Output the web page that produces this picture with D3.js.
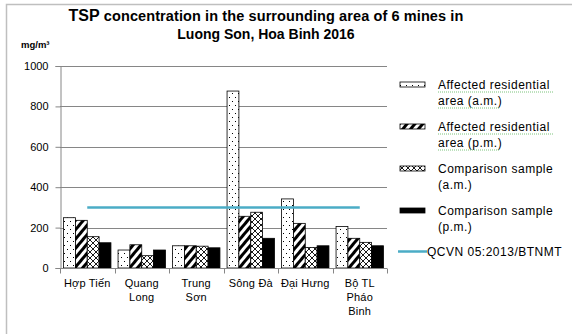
<!DOCTYPE html>
<html>
<head>
<meta charset="utf-8">
<script src="https://cdn.jsdelivr.net/npm/d3@7"></script>
<style>
  body { margin: 0; background: #fff; }
  svg { display: block; }
</style>
</head>
<body>
<div id="chart"></div>
<script>
// chart data
const categories = [["Hợp Tiến"], ["Quang", "Long"], ["Trung", "Sơn"], ["Sông Đà"], ["Đại Hưng"], ["Bộ TL", "Pháo", "Binh"]];
const seriesNames = [["Affected residential", "area (a.m.)"], ["Affected residential", "area (p.m.)"], ["Comparison sample", "(a.m.)"], ["Comparison sample", "(p.m.)"]];
const residentialAM = [249, 89, 110, 876, 342, 205];
const residentialPM = [236, 115, 110, 256, 221, 147];
const comparisonAM = [155, 61, 108, 276, 102, 127];
const comparisonPM = [125, 89, 100, 147, 110, 110];
const standardValues = [300, 300, 300, 300, 300, 300];
const standardName = "QCVN 05:2013/BTNMT";
const yTicks = [0, 200, 400, 600, 800, 1000];

const series = [residentialAM, residentialPM, comparisonAM, comparisonPM];
const fills = ["url(#dots)", "url(#hatch)", "url(#cross)", "#000"];

let width = 572, height = 334;
let margin = { top: 66, left: 60, right: 185, bottom: 66 };
const font = "Liberation Sans, Arial, sans-serif";

let svg = d3.select("#chart").append("svg")
    .attr("width", width)
    .attr("height", height);

// patterns for the bars
let defs = svg.append("defs");
let dots = defs.append("pattern").attr("id", "dots").attr("patternUnits", "userSpaceOnUse")
    .attr("width", 6).attr("height", 8);
dots.append("rect").attr("width", 6).attr("height", 8).attr("fill", "#fff");
dots.append("rect").attr("x", 1).attr("y", 1).attr("width", 1).attr("height", 1).attr("fill", "#000");
dots.append("rect").attr("x", 4).attr("y", 5).attr("width", 1).attr("height", 1).attr("fill", "#000");

let hatch = defs.append("pattern").attr("id", "hatch").attr("patternUnits", "userSpaceOnUse")
    .attr("width", 6).attr("height", 6).attr("patternTransform", "rotate(40)");
hatch.append("rect").attr("width", 6).attr("height", 6).attr("fill", "#fff");
hatch.append("rect").attr("width", 3).attr("height", 6).attr("fill", "#000");

let cross = defs.append("pattern").attr("id", "cross").attr("patternUnits", "userSpaceOnUse")
    .attr("width", 6).attr("height", 6);
cross.append("rect").attr("width", 6).attr("height", 6).attr("fill", "#fff");
cross.append("path").attr("d", "M0,0L6,6M6,0L0,6").attr("stroke", "#000").attr("stroke-width", 0.9);

// frame
svg.append("path").attr("d", "M6.5,340V4.5H580").attr("fill", "none").attr("stroke", "#bfbfbf").attr("stroke-width", 1.5);

// scales
let x = d3.scaleBand()
    .domain(d3.range(categories.length))
    .range([margin.left, width - margin.right]);
let xInner = d3.scaleBand()
    .domain(d3.range(series.length))
    .range([0, x.bandwidth()])
    .paddingOuter(0.3);
let y = d3.scaleLinear()
    .domain([0, 1000])
    .range([height - margin.bottom, margin.top]);

// gridlines
svg.append("g")
    .selectAll("line")
    .data(yTicks.slice(1))
    .enter().append("line")
    .attr("x1", margin.left).attr("x2", width - margin.right)
    .attr("y1", d => Math.round(y(d)) + 0.5).attr("y2", d => Math.round(y(d)) + 0.5)
    .attr("stroke", "#868686").attr("stroke-width", 1);

// y axis
let yAxis = svg.append("g")
    .attr("transform", `translate(${margin.left + 0.5},0)`)
    .call(d3.axisLeft(y).tickValues(yTicks).tickSize(5).tickPadding(7).tickFormat(d3.format("d")));
yAxis.selectAll("path, line").attr("stroke", "#868686");
yAxis.selectAll("text").attr("font-family", font).attr("font-size", 11).attr("fill", "#000");

// bars
series.forEach((vals, s) => {
    svg.append("g").selectAll("rect")
        .data(vals)
        .enter().append("rect")
        .attr("x", (d, i) => x(i) + xInner(s))
        .attr("y", d => y(d))
        .attr("width", xInner.bandwidth())
        .attr("height", d => y(0) - y(d))
        .attr("fill", fills[s])
        .attr("stroke", "#000")
        .attr("stroke-width", 0.8);
});

// x axis
let xAxis = svg.append("g")
    .attr("transform", `translate(0,${Math.round(y(0)) + 0.5})`);
xAxis.append("line").attr("x1", margin.left).attr("x2", width - margin.right).attr("stroke", "#868686");
xAxis.selectAll(".tk")
    .data(d3.range(categories.length + 1))
    .enter().append("line")
    .attr("x1", i => Math.round(margin.left + i * x.step()) + 0.5)
    .attr("x2", i => Math.round(margin.left + i * x.step()) + 0.5)
    .attr("y1", 0).attr("y2", 5)
    .attr("stroke", "#868686");
xAxis.selectAll("text")
    .data(categories)
    .enter().append("text")
    .attr("x", (d, i) => x(i) + x.bandwidth() / 2)
    .attr("y", 18)
    .attr("text-anchor", "middle")
    .attr("font-family", font)
    .attr("font-size", 11)
    .attr("letter-spacing", 0.2)
    .selectAll("tspan")
    .data(d => d)
    .enter().append("tspan")
    .attr("x", function() { return this.parentNode.getAttribute("x"); })
    .attr("dy", (d, i) => i === 0 ? 0 : 14)
    .text(d => d);

// standard line
let line = d3.line()
    .x((d, i) => x(i) + x.bandwidth() / 2)
    .y(d => y(d));
svg.append("path")
    .datum(standardValues)
    .attr("d", line)
    .attr("fill", "none")
    .attr("stroke", "#4bacc6")
    .attr("stroke-width", 2.5);

// title
let title = svg.append("text")
    .attr("x", 266).attr("y", 21)
    .attr("text-anchor", "middle")
    .attr("font-family", font)
    .attr("font-weight", "bold");
title.append("tspan").attr("font-size", 16).text("TSP");
title.append("tspan").attr("font-size", 14.5).attr("letter-spacing", 0.1).text(" concentration in the surrounding area of 6 mines in");
svg.append("text")
    .attr("x", 266).attr("y", 39)
    .attr("text-anchor", "middle")
    .attr("font-family", font)
    .attr("font-weight", "bold")
    .attr("font-size", 14)
    .text("Luong Son, Hoa Binh 2016");

svg.append("text")
    .attr("x", 21).attr("y", 48)
    .attr("font-family", font)
    .attr("font-weight", "bold")
    .attr("font-size", 9.5)
    .text("mg/m³");

// legend
let legend = svg.append("g").attr("font-family", font).attr("font-size", 12).attr("letter-spacing", 0.5);
seriesNames.forEach((name, s) => {
    let ly = 82 + s * 42;
    legend.append("rect")
        .attr("x", 400).attr("y", ly).attr("width", 25).attr("height", 5)
        .attr("fill", fills[s]).attr("stroke", "#000").attr("stroke-width", 0.8);
    let t = legend.append("text").attr("x", 438).attr("y", ly + 7);
    name.forEach((ln, k) => {
        t.append("tspan").attr("x", 438).attr("dy", k === 0 ? 0 : 16).text(ln);
    });
    if (s < 2) {
        // spell-check underline
        name.forEach((ln, k) => {
            let w = k === 0 ? 116 : 62;
            legend.append("line")
                .attr("x1", 438).attr("x2", 438 + w)
                .attr("y1", ly + 10 + k * 16).attr("y2", ly + 10 + k * 16)
                .attr("stroke", "#7cc47c").attr("stroke-width", 1)
                .attr("stroke-dasharray", "1,1");
        });
    }
});
legend.append("line")
    .attr("x1", 398).attr("x2", 427).attr("y1", 251.5).attr("y2", 251.5)
    .attr("stroke", "#4bacc6").attr("stroke-width", 2.5);
legend.append("text").attr("x", 427).attr("y", 256).text(standardName);
</script>
</body>
</html>
